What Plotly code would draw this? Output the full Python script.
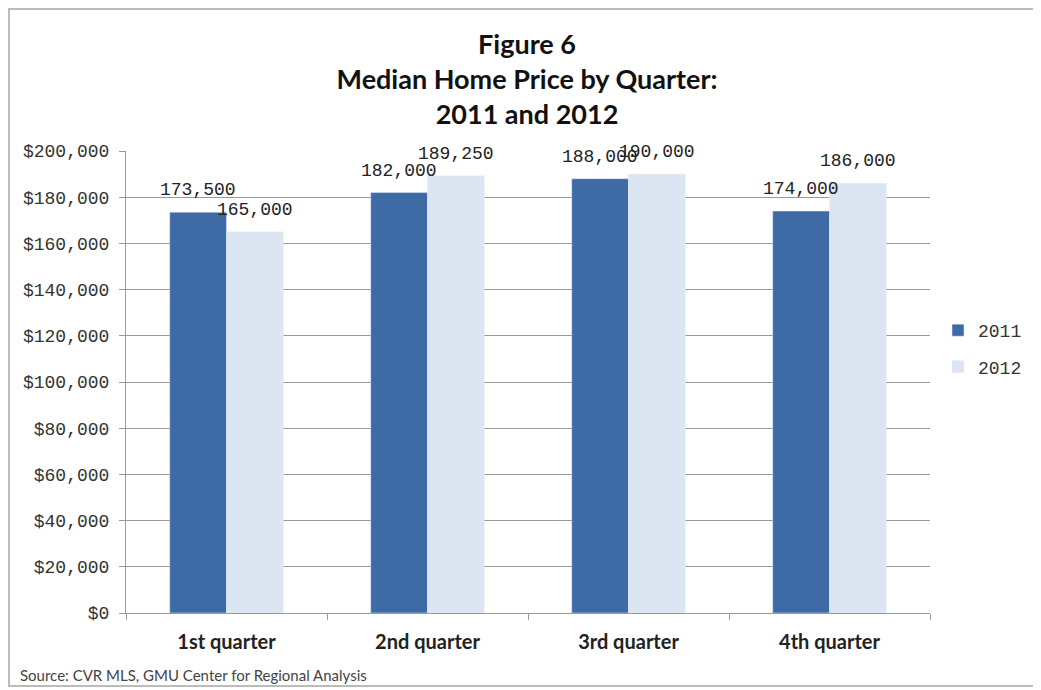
import plotly.graph_objects as go

categories = ["1st quarter", "2nd quarter", "3rd quarter", "4th quarter"]
values_2011 = [173500, 182000, 188000, 174000]
values_2012 = [165000, 189250, 190000, 186000]
labels_2011 = ["173,500", "182,000", "188,000", "174,000"]
labels_2012 = ["165,000", "189,250", "190,000", "186,000"]
tick_vals = [0, 20000, 40000, 60000, 80000, 100000, 120000, 140000, 160000, 180000, 200000]
tick_text = ["$0", "$20,000", "$40,000", "$60,000", "$80,000", "$100,000", "$120,000",
             "$140,000", "$160,000", "$180,000", "$200,000"]

OFF = 8  # page body margin
W, H = 1041 - OFF, 690 - OFF
# plot area in screen pixels: x 126..930, y 151..613
L = 126 - OFF
T = 151 - OFF
R = W - (930 - OFF)
B = H - (613 - OFF)
pw, ph = W - L - R, H - T - B


def px(x):
    return (x - OFF - L) / pw


def py(y):
    return (H - B - (y - OFF)) / ph


mono = "Liberation Mono"
sans = "Lato"
BARGAP = 0.435
half = (1 - BARGAP) / 4  # offset of each bar centre from category centre

fig = go.Figure()
fig.add_trace(go.Bar(
    x=categories, y=values_2011, name="2011", marker_color="#3e6aa6",
    legendgroup="a",
))
fig.add_trace(go.Bar(
    x=categories, y=values_2012, name="2012", marker_color="#dce6f2",
    legendgroup="b",
))

for i, (v, t) in enumerate(zip(values_2011, labels_2011)):
    fig.add_annotation(x=i - half, y=v, text=t, showarrow=False, xref="x", yref="y",
                       yanchor="middle", yshift=22,
                       font=dict(family=mono, size=18, color="#222"))
for i, (v, t) in enumerate(zip(values_2012, labels_2012)):
    fig.add_annotation(x=i + half, y=v, text=t, showarrow=False, xref="x", yref="y",
                       yanchor="middle", yshift=22,
                       font=dict(family=mono, size=18, color="#222"))

fig.update_layout(
    width=W, height=H,
    margin=dict(l=L, r=R, t=T, b=B),
    paper_bgcolor="white", plot_bgcolor="white",
    barmode="group", bargap=BARGAP, bargroupgap=0,
    title=dict(
        text="Figure 6<br>Median Home Price by Quarter:<br>2011 and 2012",
        x=(527 - OFF) / W, xanchor="center",
        yref="container", y=1 - (54 - OFF) / H, yanchor="top",
        font=dict(family=sans, size=27, color="#111", weight="bold"),
    ),
    legend=dict(
        x=px(938), y=py(312), xanchor="left", yanchor="top",
        font=dict(family=mono, size=18, color="#333"),
        tracegroupgap=10, itemwidth=30,
        bgcolor="rgba(0,0,0,0)",
    ),
    showlegend=True,
)
fig.update_xaxes(
    showline=True, linecolor="#999", linewidth=1,
    ticks="outside", tickson="boundaries", ticklen=6, tickcolor="#999",
    tickfont=dict(family=sans, size=20, color="#222", weight="bold"),
    ticklabelstandoff=11,
    showgrid=False, range=[-0.5, 3.5],
)
fig.update_yaxes(
    range=[0, 200000], tickvals=tick_vals, ticktext=tick_text,
    showline=True, linecolor="#999", linewidth=1,
    ticks="outside", ticklen=6, tickcolor="#999",
    showgrid=True, gridcolor="#999", gridwidth=1,
    tickfont=dict(family=mono, size=18, color="#333"),
    ticklabelstandoff=6,
    zeroline=False,
)

# outer frame
fig.add_shape(type="rect", xref="paper", yref="paper",
              x0=px(9), x1=px(1035), y0=py(686), y1=py(9),
              line=dict(color="#bbbbbb", width=2), fillcolor="rgba(0,0,0,0)", layer="below")

fig.add_annotation(
    text="Source: CVR MLS, GMU Center for Regional Analysis",
    xref="paper", yref="paper", x=px(18), y=py(675),
    xanchor="left", yanchor="middle", showarrow=False,
    font=dict(family=sans, size=15, color="#444"),
)

fig.write_html("out.html")
